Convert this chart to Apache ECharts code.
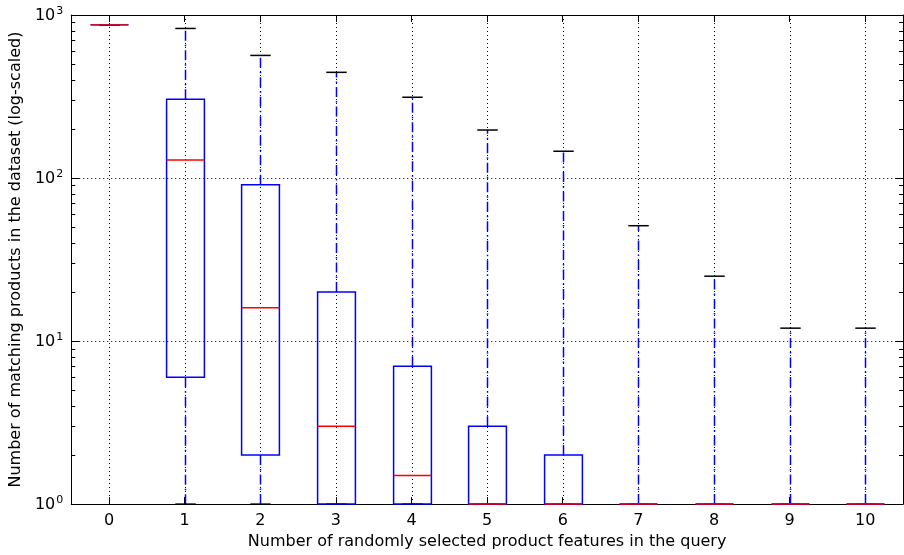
<!DOCTYPE html>
<html>
<head>
<meta charset="utf-8">
<script src="https://cdn.jsdelivr.net/npm/echarts@6/dist/echarts.min.js"></script>
<style>html,body{margin:0;padding:0;background:#fff;}#c{width:904px;height:555px;}</style>
</head>
<body>
<div id="c"></div>
<script>
var categories = ['0','1','2','3','4','5','6','7','8','9','10'];
var whiskerLow  = [870, 1, 1, 1, 1, 1, 1, 1, 1, 1, 1];
var q1          = [870, 6, 2, 1, 1, 1, 1, 1, 1, 1, 1];
var median      = [870, 129, 16, 3, 1.5, 1, 1, 1, 1, 1, 1];
var q3          = [870, 304, 91, 20, 7, 3, 2, 1, 1, 1, 1];
var whiskerHigh = [870, 827, 565, 445, 313, 197, 146, 51, 25, 12, 12];
var minorTickValues = [2,3,4,5,6,7,8,9,20,30,40,50,60,70,80,90,200,300,400,500,600,700,800,900];

var FONT = 'DejaVu Sans';
var BLUE = '#0000ff', RED = '#ff0000';

var boxData = categories.map(function (c, i) {
  return [i, whiskerLow[i], q1[i], median[i], q3[i], whiskerHigh[i]];
});

var chart = echarts.init(document.getElementById('c'), null, {renderer: 'canvas'});

var option = {
  animation: false,
  backgroundColor: '#fff',
  grid: {left: 70, right: 1, top: 15, bottom: 50, containLabel: false},
  xAxis: [{
    type: 'category', data: categories, position: 'bottom', boundaryGap: true,
    axisLine: {show: true, lineStyle: {color: '#000', width: 1}},
    axisTick: {show: true, inside: true, alignWithLabel: true, length: 7, lineStyle: {color: '#000'}},
    axisLabel: {color: '#000', fontFamily: FONT, fontSize: 16, margin: 9},
    splitLine: {show: false},
    name: 'Number of randomly selected product features in the query',
    nameLocation: 'middle', nameGap: 27,
    nameTextStyle: {color: '#000', fontFamily: FONT, fontSize: 16}
  }, {
    type: 'category', data: categories, position: 'top', boundaryGap: true,
    axisLine: {show: true, lineStyle: {color: '#000', width: 1}},
    axisTick: {show: true, inside: true, alignWithLabel: true, length: 7, lineStyle: {color: '#000'}},
    axisLabel: {show: false}, splitLine: {show: false}
  }],
  yAxis: [{
    type: 'log', logBase: 10, min: 1, max: 1000, position: 'left',
    axisLine: {show: true, lineStyle: {color: '#000', width: 1}},
    axisTick: {show: true, inside: true, length: 8, lineStyle: {color: '#000'}},
    axisLabel: {
      color: '#000', margin: 8,
      formatter: function (v) { return '{b|10}{s|' + Math.round(Math.log10(v)) + '}'; },
      rich: {
        b: {fontFamily: FONT, fontSize: 16, color: '#000', verticalAlign: 'bottom', lineHeight: 18},
        s: {fontFamily: FONT, fontSize: 11, color: '#000', verticalAlign: 'top', lineHeight: 18, padding: [0,0,8,1]}
      }
    },
    splitLine: {show: true, lineStyle: {color: '#000', type: [1, 3], width: 1}},
    name: 'Number of matching products in the dataset (log-scaled)',
    nameLocation: 'middle', nameGap: 46,
    nameTextStyle: {color: '#000', fontFamily: FONT, fontSize: 16}
  }, {
    type: 'log', logBase: 10, min: 1, max: 1000, position: 'right',
    axisLine: {show: true, lineStyle: {color: '#000', width: 1}},
    axisTick: {show: true, inside: true, length: 8, lineStyle: {color: '#000'}},
    axisLabel: {show: false}, splitLine: {show: false}
  }],
  series: [{
    // vertical dotted grid lines at each category
    type: 'custom', z: 1, xAxisIndex: 0, yAxisIndex: 0,
    data: categories.map(function (c, i) { return [i]; }),
    renderItem: function (params, api) {
      var cs = params.coordSys;
      var x = Math.round(api.coord([api.value(0), 1])[0]) + 0.5;
      return {type: 'line', shape: {x1: x, y1: cs.y, x2: x, y2: cs.y + cs.height},
        style: {stroke: '#000', lineWidth: 1, lineDash: [1, 3]}, silent: true};
    }
  }, {
    // minor ticks of the log axis (left and right)
    type: 'custom', z: 3, xAxisIndex: 0, yAxisIndex: 0,
    data: minorTickValues.map(function (v) { return [0, v]; }),
    renderItem: function (params, api) {
      var cs = params.coordSys;
      var y = Math.round(api.coord([0, api.value(1)])[1]) + 0.5;
      return {type: 'group', children: [
        {type: 'line', shape: {x1: cs.x, y1: y, x2: cs.x + 4, y2: y}, style: {stroke: '#000', lineWidth: 1}},
        {type: 'line', shape: {x1: cs.x + cs.width - 4, y1: y, x2: cs.x + cs.width, y2: y}, style: {stroke: '#000', lineWidth: 1}}
      ], silent: true};
    }
  }, {
    // box plots
    type: 'custom', z: 5, xAxisIndex: 0, yAxisIndex: 0,
    data: boxData,
    clip: false,
    renderItem: function (params, api) {
      var idx = api.value(0);
      var band = api.size([1, 0])[0];
      var cx = Math.round(api.coord([idx, 1])[0]) + 0.5;
      var yOf = function (v) { return api.coord([idx, v])[1]; };
      var wl = api.value(1), a = api.value(2), m = api.value(3), b = api.value(4), wh = api.value(5);
      var hw = band * 0.25, cw = band * 0.135;
      var dash = [10, 4, 1.5, 4];
      var ch = [];
      if (wh > b) {
        ch.push({type: 'line', shape: {x1: cx, y1: yOf(b), x2: cx, y2: yOf(wh)},
          style: {stroke: BLUE, lineWidth: 1.5, lineDash: dash}});
      }
      if (wl < a) {
        ch.push({type: 'line', shape: {x1: cx, y1: yOf(a), x2: cx, y2: yOf(wl)},
          style: {stroke: BLUE, lineWidth: 1.5, lineDash: dash}});
      }
      ch.push({type: 'line', shape: {x1: cx - cw, y1: yOf(wh), x2: cx + cw, y2: yOf(wh)},
        style: {stroke: '#000', lineWidth: 1.5}});
      ch.push({type: 'line', shape: {x1: cx - cw, y1: yOf(wl), x2: cx + cw, y2: yOf(wl)},
        style: {stroke: '#000', lineWidth: 1.5}});
      ch.push({type: 'rect', shape: {x: cx - hw, y: yOf(b), width: 2 * hw, height: yOf(a) - yOf(b)},
        style: {stroke: BLUE, fill: null, lineWidth: 1.5}});
      ch.push({type: 'line', shape: {x1: cx - hw, y1: yOf(m), x2: cx + hw, y2: yOf(m)},
        style: {stroke: idx === 0 ? '#c0103a' : RED, lineWidth: 1.5}});
      return {type: 'group', children: ch, silent: true};
    }
  }]
};
chart.setOption(option);
</script>
</body>
</html>
